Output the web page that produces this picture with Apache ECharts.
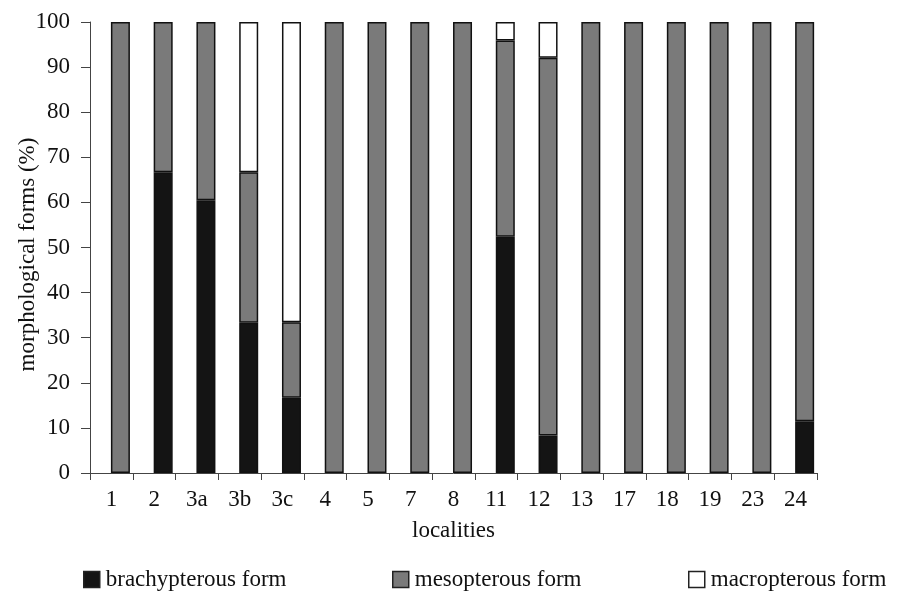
<!DOCTYPE html>
<html>
<head>
<meta charset="utf-8">
<script src="https://cdn.jsdelivr.net/npm/echarts@6/dist/echarts.min.js"></script>
<style>
html,body{margin:0;padding:0;background:#fff;}
#chart{width:898px;height:596px;}
</style>
</head>
<body>
<div id="chart"></div>
<script>
var categories = ['1','2','3a','3b','3c','4','5','7','8','11','12','13','17','18','19','23','24'];
var brachypterous = [0, 66.7, 60.5, 33.3, 16.7, 0, 0, 0, 0, 52.4, 8.3, 0, 0, 0, 0, 0, 11.5];
var mesopterous   = [100, 33.3, 39.5, 33.4, 16.7, 100, 100, 100, 100, 43.5, 83.8, 100, 100, 100, 100, 100, 88.5];
var macropterous  = [0, 0, 0, 33.3, 66.6, 0, 0, 0, 0, 4.1, 7.9, 0, 0, 0, 0, 0, 0];
var yTicks = [0, 10, 20, 30, 40, 50, 60, 70, 80, 90, 100];

var FONT = '"Liberation Serif", "DejaVu Serif", serif';
var FS = 23;
function clean(arr){ return arr.map(function(v){ return v === 0 ? '-' : v; }); }

var chart = echarts.init(document.getElementById('chart'));
var barStyle = function(color){
  return { color: color, borderColor: '#111', borderWidth: 1.5 };
};
var legendBase = {
  orient: 'horizontal', top: 568, itemWidth: 16, itemHeight: 16, itemGap: 10,
  icon: 'rect', padding: 0,
  textStyle: { fontFamily: FONT, fontSize: FS, color: '#111', padding: [0,0,0,1] },
  itemStyle: { borderColor: '#222', borderWidth: 1.5 }
};
chart.setOption({
  animation: false,
  backgroundColor: '#fff',
  grid: { left: 90, right: 81, top: 22, bottom: 123, containLabel: false, outerBoundsMode: 'none' },
  legend: [
    Object.assign({}, legendBase, { left: 83, data: ['brachypterous form'] }),
    Object.assign({}, legendBase, { left: 392, data: ['mesopterous form'] }),
    Object.assign({}, legendBase, { left: 688, data: ['macropterous form'] })
  ],
  xAxis: {
    type: 'category',
    data: categories,
    name: 'localities',
    nameLocation: 'middle',
    nameGap: 46,
    nameMoveOverlap: false,
    nameTextStyle: { fontFamily: FONT, fontSize: FS, color: '#111' },
    axisLine: { lineStyle: { color: '#444', width: 1 } },
    axisTick: { show: true, length: 7, alignWithLabel: false, lineStyle: { color: '#444' } },
    axisLabel: { fontFamily: FONT, fontSize: FS, color: '#111', margin: 15, interval: 0 }
  },
  yAxis: {
    type: 'value',
    min: 0, max: 100, interval: 10,
    name: 'morphological forms (%)',
    nameLocation: 'middle',
    nameGap: 51,
    nameMoveOverlap: false,
    nameTextStyle: { fontFamily: FONT, fontSize: FS, color: '#111', padding: [0, 14, 0, 0] },
    splitLine: { show: false },
    axisLine: { show: true, lineStyle: { color: '#444', width: 1 } },
    axisTick: { show: true, length: 9, lineStyle: { color: '#444' } },
    axisLabel: { fontFamily: FONT, fontSize: FS, color: '#111', margin: 20 }
  },
  series: [
    { name: 'spacer', type: 'bar', stack: 'spacer', data: categories.map(function(){ return 0; }),
      barWidth: 19, barGap: '-5%', silent: true,
      itemStyle: { color: 'rgba(0,0,0,0)', borderWidth: 0 } },
    { name: 'brachypterous form', type: 'bar', stack: 'forms', data: clean(brachypterous),
      barWidth: 19, barGap: '-5%', itemStyle: barStyle('#141414') },
    { name: 'mesopterous form', type: 'bar', stack: 'forms', data: clean(mesopterous),
      barWidth: 19, itemStyle: barStyle('#7a7a7a') },
    { name: 'macropterous form', type: 'bar', stack: 'forms', data: clean(macropterous),
      barWidth: 19, itemStyle: barStyle('#ffffff') }
  ]
});
</script>
</body>
</html>
